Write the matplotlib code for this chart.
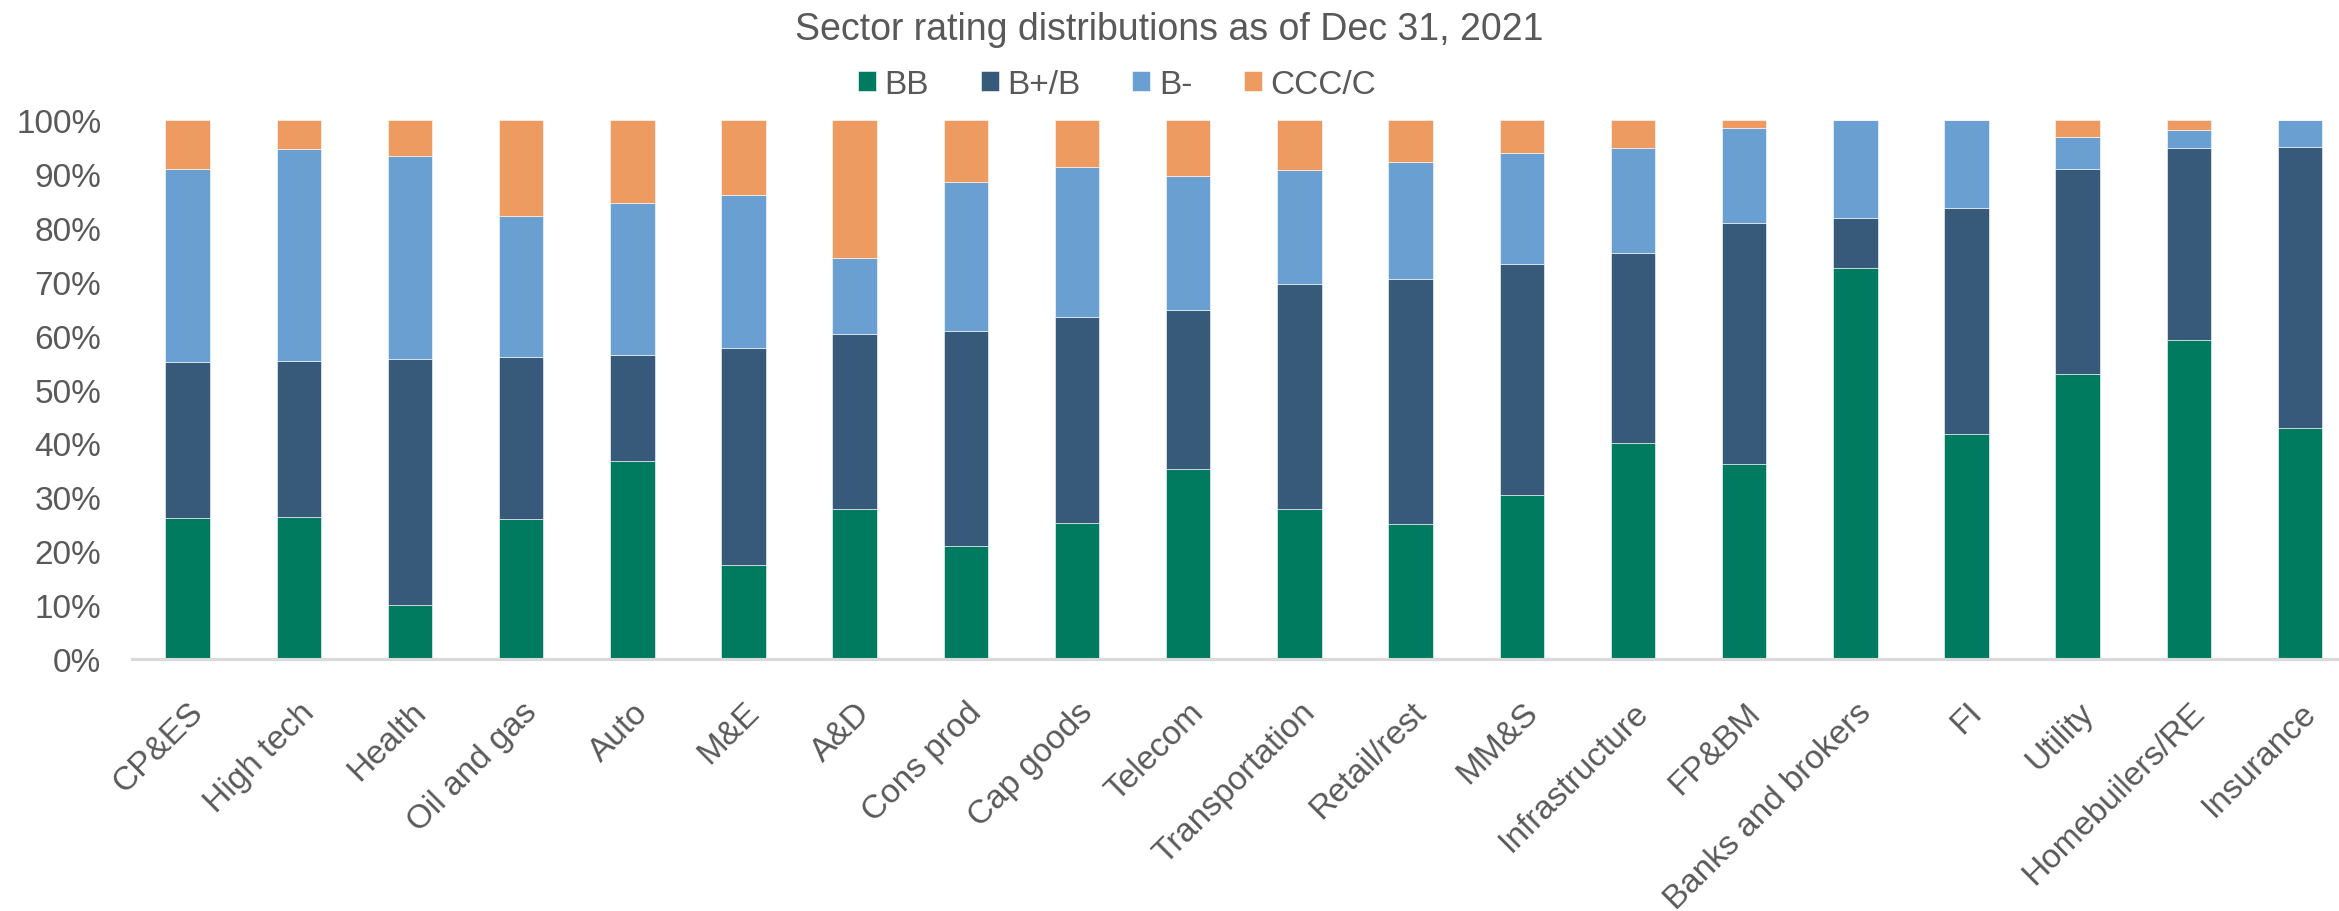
import matplotlib
matplotlib.use("Agg")
import matplotlib.pyplot as plt
import numpy as np
from matplotlib.ticker import PercentFormatter

sectors = ["CP&ES", "High tech", "Health", "Oil and gas", "Auto", "M&E", "A&D",
           "Cons prod", "Cap goods", "Telecom", "Transportation", "Retail/rest",
           "MM&S", "Infrastructure", "FP&BM", "Banks and brokers", "FI", "Utility",
           "Homebuilers/RE", "Insurance"]

# share of each rating bucket, in %
bb = [26.1, 26.4, 10.0, 26.0, 36.8, 17.5, 27.8, 20.9, 25.2, 35.2,
      27.8, 25.0, 30.4, 40.1, 36.1, 72.6, 41.7, 52.9, 59.2, 42.8]
b_plus_b = [29.0, 28.9, 45.6, 30.1, 19.7, 40.3, 32.6, 39.9, 38.2, 29.5,
            41.9, 45.6, 43.0, 35.2, 44.9, 9.2, 42.0, 38.1, 35.7, 52.3]
b_minus = [35.9, 39.3, 37.7, 26.1, 28.2, 28.4, 14.1, 27.8, 27.9, 24.9,
           21.0, 21.6, 20.5, 19.5, 17.5, 18.2, 16.3, 6.0, 3.4, 4.9]
ccc_c = [9.0, 5.4, 6.7, 17.8, 15.3, 13.8, 25.5, 11.4, 8.7, 10.4,
         9.3, 7.8, 6.1, 5.2, 1.5, 0.0, 0.0, 3.0, 1.7, 0.0]

series = [("BB", bb, "#007B5F"), ("B+/B", b_plus_b, "#375A7A"),
          ("B-", b_minus, "#6A9FD1"), ("CCC/C", ccc_c, "#EE9B62")]

text_color = "#595959"
plt.rcParams["font.family"] = ["Liberation Sans", "DejaVu Sans"]

fig = plt.figure(figsize=(23.39, 9.12), dpi=100)
ax = fig.add_axes([132 / 2339, 1 - 659.8 / 912, (2339 - 132) / 2339, (659.8 - 121.4) / 912])

x = np.arange(len(sectors))
bottom = np.zeros(len(sectors))
for name, vals, color in series:
    v = np.array(vals) / 100
    ax.bar(x, v, width=0.4, bottom=bottom, color=color, label=name,
           edgecolor="white", linewidth=0.4)
    bottom += v

ax.set_xlim(-0.5, 19.35)
ax.set_ylim(0, 1)
ax.set_yticks(np.arange(0, 1.01, 0.1))
ax.yaxis.set_major_formatter(PercentFormatter(1.0, decimals=0))
ax.set_xticks(x)
ax.set_xticklabels(sectors, rotation=45, ha="right", rotation_mode="anchor")
ax.tick_params(axis="both", length=0, labelsize=24, colors=text_color)
ax.tick_params(axis="y", pad=22)
ax.tick_params(axis="x", pad=27)

for s in ["top", "right", "left"]:
    ax.spines[s].set_visible(False)
ax.spines["bottom"].set_color("#D9D9D9")
ax.spines["bottom"].set_linewidth(2.2)

fig.text(0.5, 1 - 30 / 912, "Sector rating distributions as of Dec 31, 2021",
         ha="center", va="center", fontsize=27, color=text_color)

handles, labels = ax.get_legend_handles_labels()
leg = fig.legend(handles, labels, loc="center", ncol=4,
                 bbox_to_anchor=(1117 / 2339, 1 - 85 / 912), frameon=False,
                 fontsize=24, handlelength=0.55, handleheight=0.55,
                 handletextpad=0.25, columnspacing=1.55)
for t in leg.get_texts():
    t.set_color(text_color)

fig.savefig("out.png", dpi=100)
